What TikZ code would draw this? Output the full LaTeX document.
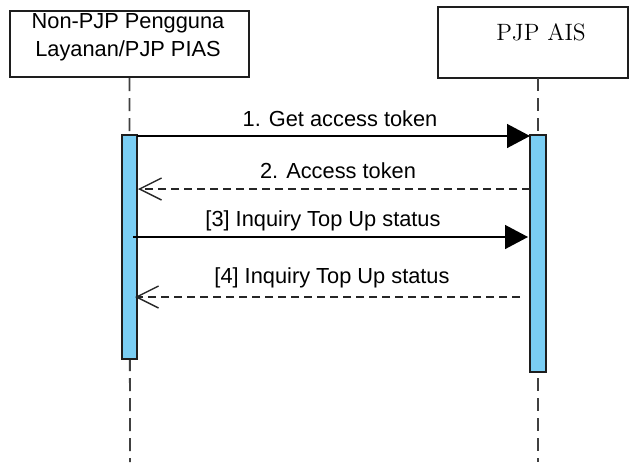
\documentclass[tikz,border=0pt]{standalone}
\usepackage{fontspec}
\newfontfamily\arialfont{Liberation Sans}
\usetikzlibrary{arrows.meta}
\definecolor{barblue}{RGB}{122,206,244}
\definecolor{boxline}{RGB}{30,30,30}

\begin{document}
\begin{tikzpicture}[
		x=0.5pt,
		y=-0.5pt,
		font=\arialfont\fontsize{10.9}{14}\selectfont,
		partbox/.style={draw=boxline, line width=1pt, rectangle, inner sep=0pt},
		lifeline/.style={draw=black!75, line width=0.9pt, dash pattern=on 6.5pt off 3.5pt},
		actbar/.style={draw=boxline, line width=1pt, fill=barblue, inner sep=0pt, minimum width=7.5pt},
		callmsg/.style={line width=0.7pt, -{Triangle[length=11.5pt, width=12pt]}},
		replymsg/.style={draw=black!85, line width=0.7pt, dash pattern=on 4pt off 2.5pt,
				-{Straight Barb[length=11pt, width=11pt, line width=0.7pt]}}
	]
	\useasboundingbox (0,0) rectangle (630,462);

	% ---- participantes ---------------------------------------------
	\node[partbox, minimum width=119.5pt, minimum height=33pt] (userbox) at (129.5,44) {};
	\node[align=center] (user) at (128,37.4) {Non-PJP Pengguna\\Layanan/PJP PIAS};
	\node[partbox, minimum width=95pt, minimum height=35.5pt] (aisbox) at (533,42.5) {};
	\node[anchor=base, font=\rmfamily\fontsize{11.8}{13}\selectfont] (ais) at (541,40) {PJP AIS};

	% ---- linhas de vida --------------------------------------------
	\coordinate (userend) at (130,462);
	\coordinate (aistop) at (538,78);
	\coordinate (aisend) at (538,462);
	\draw[lifeline] (userbox.south) -- (userend);
	\draw[lifeline] (aistop) -- (aisend);

	% ---- barras de ativacao ----------------------------------------
	\node[actbar, minimum height=112pt] (userbar) at (129.5,247) {};
	\node[actbar, minimum width=8pt, minimum height=118.5pt] (aisbar) at (538,253.5) {};

	% ---- mensagens -------------------------------------------------
	% 1: pedido do token
	\coordinate (m1from) at (137,136);
	\coordinate (m1to) at (530,136);
	\draw[callmsg] (m1from) -- (m1to);
	\node[anchor=base] (m1) at (340,126) {1. Get access token};

	% 2: resposta com o token
	\coordinate (m2from) at (530,189);
	\coordinate (m2to) at (138,189);
	\draw[replymsg] (m2from) -- (m2to);
	\node[anchor=base] (m2) at (338,178) {2. Access token};

	% 3: consulta do status
	\coordinate (m3from) at (133,237);
	\coordinate (m3to) at (528,237);
	\draw[callmsg] (m3from) -- (m3to);
	\node[anchor=base] (m3) at (323,226) {[3] Inquiry Top Up status};

	% 4: resposta do status
	\coordinate (m4from) at (520,297);
	\coordinate (m4to) at (135,297);
	\draw[replymsg] (m4from) -- (m4to);
	\node[anchor=base] (m4) at (332,283) {[4] Inquiry Top Up status};
\end{tikzpicture}
\end{document}
